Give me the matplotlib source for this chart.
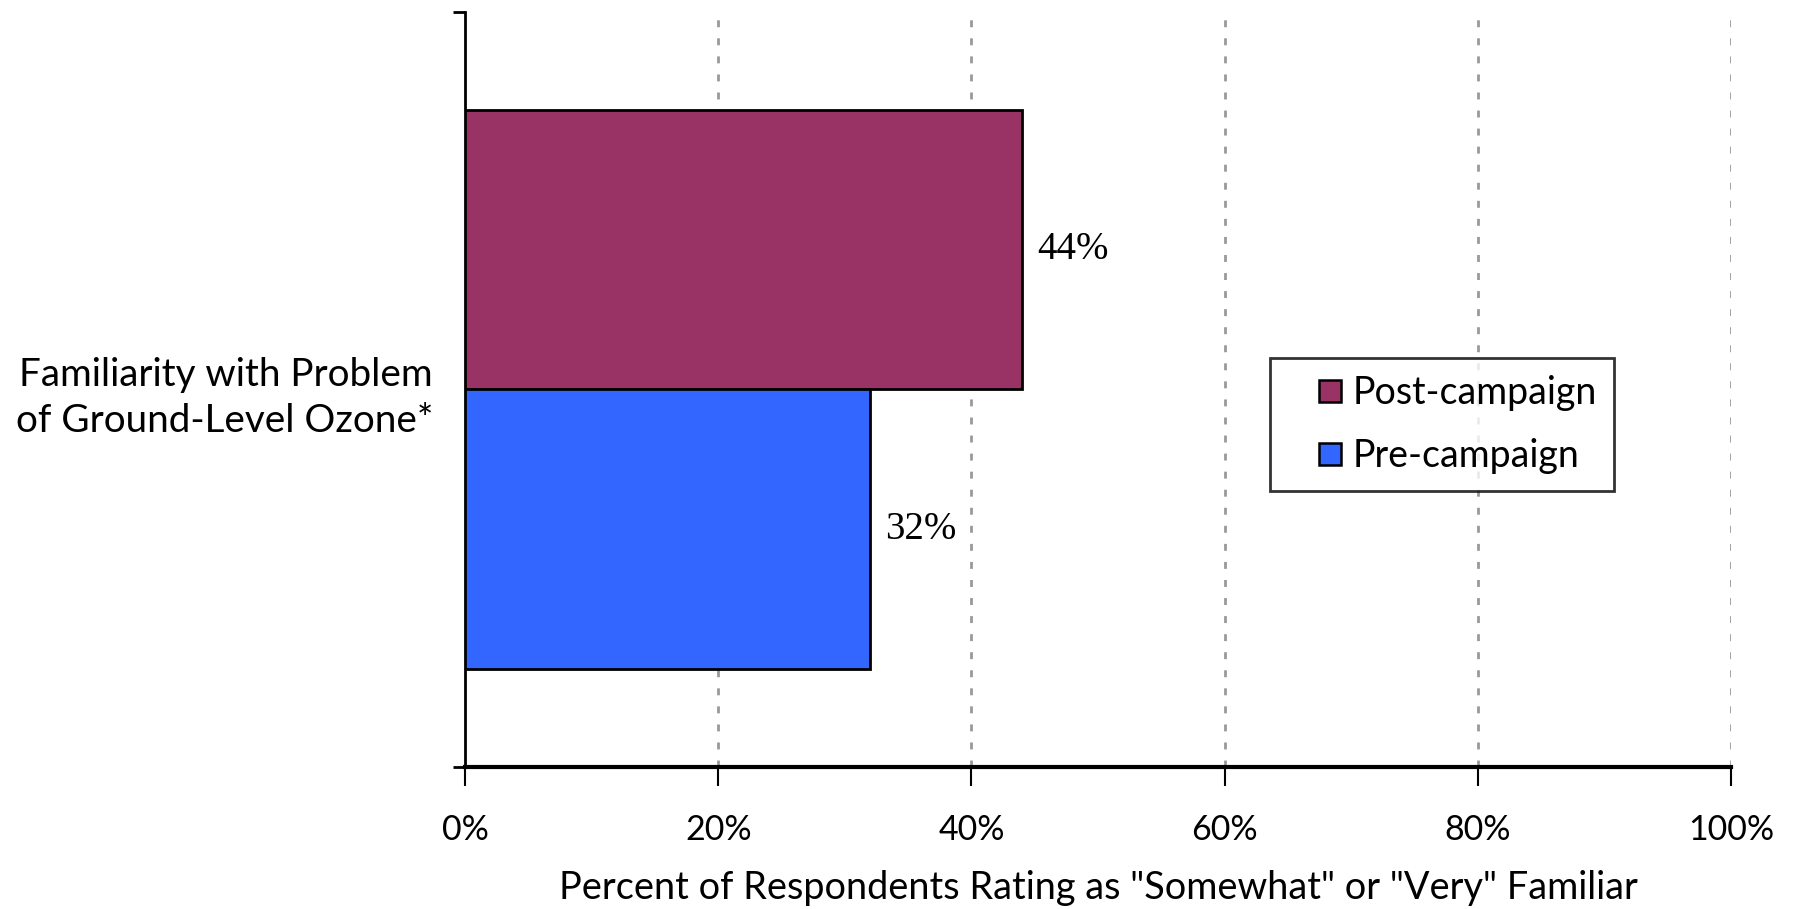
import matplotlib
matplotlib.use("Agg")
import matplotlib.pyplot as plt
from matplotlib.lines import Line2D

# Data
category = "Familiarity with Problem\nof Ground-Level Ozone*"
series_names = ["Post-campaign", "Pre-campaign"]
series_values = [44, 32]
series_colors = ["#993366", "#3366FF"]
x_ticks = [0, 20, 40, 60, 80, 100]
x_tick_labels = ["0%", "20%", "40%", "60%", "80%", "100%"]
x_label = 'Percent of Respondents Rating as "Somewhat" or "Very" Familiar'

plt.rcParams["font.family"] = ["Lato", "DejaVu Sans"]

fig = plt.figure(figsize=(17.97, 9.09), dpi=100)
ax = fig.add_axes([0.2588, 0.1562, 0.7045, 0.8311])

bar_h = 0.37
offsets = [bar_h / 2, -bar_h / 2]
for name, val, col, off in zip(series_names, series_values, series_colors, offsets):
    ax.barh(off, val, height=bar_h, color=col, edgecolor="black",
            linewidth=2, zorder=3)
    ax.text(val + 1.2, off, f"{val}%", va="center", ha="left",
            fontsize=28, family=["Liberation Serif"], zorder=4)

ax.set_xlim(0, 100)
ax.set_ylim(-0.5, 0.5)

# vertical gridlines
for t in x_ticks[1:]:
    ax.axvline(t, color="#999999", linewidth=2, linestyle=(0, (2.5, 4)),
               zorder=1)

ax.set_xticks(x_ticks)
ax.set_xticklabels(x_tick_labels, fontsize=24.5)
ax.tick_params(axis="x", direction="out", length=14, width=1.5, pad=20)

ax.set_yticks([-0.5, 0.5])
ax.set_yticklabels([])
ax.set_yticks([0], minor=True)
ax.set_yticklabels([category], minor=True, fontsize=27.8, linespacing=1.35)
ax.tick_params(axis="y", which="major", direction="out", length=9, width=2)
ax.tick_params(axis="y", which="minor", length=0, pad=23)

ax.set_xlabel(x_label, fontsize=27.3, labelpad=17)

for s in ["top", "right"]:
    ax.spines[s].set_visible(False)
ax.spines["left"].set_linewidth(2)
ax.spines["bottom"].set_linewidth(3)

handles = [Line2D([], [], linestyle="none", marker="s", markersize=15.5,
                  markerfacecolor=c, markeredgecolor="black",
                  markeredgewidth=1.8) for c in series_colors]
leg = ax.legend(handles, series_names, loc="upper left",
                bbox_to_anchor=(0.636, 0.541), borderaxespad=0,
                fontsize=27, frameon=True, fancybox=False, shadow=False,
                handlelength=2.3, handletextpad=-0.55,
                labelspacing=0.72, borderpad=0.45)
leg.get_frame().set_edgecolor("black")
leg.get_frame().set_linewidth(2)

fig.savefig("out.png", dpi=100, facecolor="white")
